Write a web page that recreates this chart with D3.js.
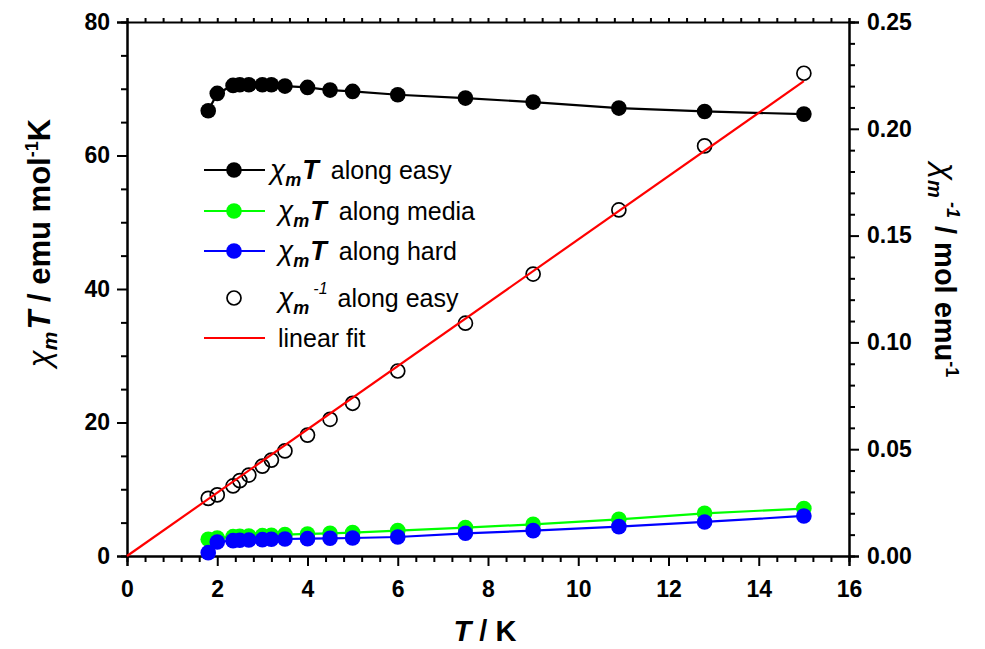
<!DOCTYPE html>
<html>
<head>
<meta charset="utf-8">
<script src="https://cdn.jsdelivr.net/npm/d3@7"></script>
<style>
  body { margin: 0; background: #fff; }
  svg { font-family: Arial, "Liberation Sans", sans-serif; }
</style>
</head>
<body>
<div id="chart"></div>
<script>
// temperatures (K)
const temps = [1.8, 2.0, 2.35, 2.5, 2.7, 3.0, 3.2, 3.5, 4.0, 4.5, 5.0, 6.0, 7.5, 9.0, 10.9, 12.8, 15.0];
// chi_m T along the three axes (emu mol^-1 K)
const chiTEasy  = [66.7, 69.3, 70.5, 70.6, 70.6, 70.6, 70.6, 70.4, 70.2, 69.8, 69.6, 69.1, 68.6, 68.0, 67.1, 66.6, 66.2];
const chiTMedia = [2.5, 2.7, 2.9, 2.95, 3.0, 3.05, 3.1, 3.2, 3.3, 3.4, 3.5, 3.8, 4.25, 4.75, 5.5, 6.4, 7.1];
const chiTHard  = [0.5, 2.1, 2.3, 2.35, 2.4, 2.45, 2.5, 2.55, 2.6, 2.65, 2.7, 2.85, 3.4, 3.8, 4.4, 5.1, 6.0];
// inverse susceptibility along easy axis (mol emu^-1)
const invChiEasy = [0.027, 0.0286, 0.0328, 0.0353, 0.0379, 0.0421, 0.0449, 0.0492, 0.0566, 0.064, 0.0715, 0.0866, 0.109, 0.132, 0.162, 0.192, 0.226];
// linear fit end points [T, chi^-1]
const fitLine = [[0, 0], [15, 0.2223]];

const xMajor = [0, 2, 4, 6, 8, 10, 12, 14, 16];
const yLeftMajor = [0, 20, 40, 60, 80];
const yRightMajor = [0, 0.05, 0.10, 0.15, 0.20, 0.25];

const W = 985, H = 649;
const svg = d3.select("#chart").append("svg")
    .attr("width", W).attr("height", H);

const x = d3.scaleLinear().domain([0, 16]).range([127, 849]);
const yL = d3.scaleLinear().domain([0, 80]).range([556, 22]);
const yR = d3.scaleLinear().domain([0, 0.25]).range([556, 22]);

// minor ticks
const xMinor = d3.range(0, 16.001, 0.4).filter(v => Math.abs(v / 2 - Math.round(v / 2)) > 1e-6);
const yLMinor = d3.range(0, 80.001, 5).filter(v => v % 20 !== 0);
const yRMinor = d3.range(0, 26).map(v => v / 100).filter(v => Math.round(v * 100) % 5 !== 0);

function styleAxis(g) {
    g.select(".domain").attr("stroke", "#000").attr("stroke-width", 2);
    g.selectAll(".tick line").attr("stroke", "#000").attr("stroke-width", 2);
    g.selectAll(".tick text")
        .style("font-size", "23px").style("font-weight", "bold").attr("fill", "#000");
}

// bottom axis
svg.append("g").attr("transform", "translate(0,556)")
    .call(d3.axisBottom(x).tickValues(xMinor).tickSize(6).tickFormat(""))
    .call(styleAxis);
svg.append("g").attr("transform", "translate(0,556)")
    .call(d3.axisBottom(x).tickValues(xMajor).tickSize(10).tickPadding(15).tickFormat(d3.format("d")))
    .call(styleAxis);

// top axis (no labels)
svg.append("g").attr("transform", "translate(0,22)")
    .call(d3.axisTop(x).tickValues(d3.range(0, 16.001, 0.4)).tickSize(4).tickFormat(""))
    .call(styleAxis);

// left axis
svg.append("g").attr("transform", "translate(127,0)")
    .call(d3.axisLeft(yL).tickValues(yLMinor).tickSize(6).tickFormat(""))
    .call(styleAxis);
svg.append("g").attr("transform", "translate(127,0)")
    .call(d3.axisLeft(yL).tickValues(yLeftMajor).tickSize(10).tickPadding(7).tickFormat(d3.format("d")))
    .call(styleAxis);

// right axis
svg.append("g").attr("transform", "translate(849,0)")
    .call(d3.axisRight(yR).tickValues(yRMinor).tickSize(6).tickFormat(""))
    .call(styleAxis);
svg.append("g").attr("transform", "translate(849,0)")
    .call(d3.axisRight(yR).tickValues(yRightMajor).tickSize(10).tickPadding(8).tickFormat(d3.format(".2f")))
    .call(styleAxis);

// axis titles
svg.append("text")
    .attr("transform", "translate(485,641)")
    .attr("text-anchor", "middle")
    .style("font-size", "29px").style("font-weight", "bold")
    .html('<tspan font-style="italic">T</tspan> / K');

const leftTitle = svg.append("text")
    .attr("transform", "translate(50,243) rotate(-90)")
    .attr("text-anchor", "middle")
    .style("font-size", "31px").style("font-weight", "bold");
leftTitle.append("tspan").attr("font-style", "italic").attr("font-weight", "normal").text("χ");
leftTitle.append("tspan").attr("font-style", "italic").attr("font-size", "21px").attr("dy", 7).text("m");
leftTitle.append("tspan").attr("font-style", "italic").attr("dy", -7).attr("dx", 2).text("T");
leftTitle.append("tspan").text(" / emu mol");
leftTitle.append("tspan").attr("font-size", "18px").attr("dy", -12).text("-1");
leftTitle.append("tspan").attr("dy", 12).text("K");

const rightTitle = svg.append("text")
    .attr("transform", "translate(935,270) rotate(90)")
    .attr("text-anchor", "middle")
    .style("font-size", "29px").style("font-weight", "bold");
rightTitle.append("tspan").attr("font-style", "italic").attr("font-weight", "normal").attr("font-size", "32px").text("χ");
rightTitle.append("tspan").attr("font-style", "italic").attr("font-size", "20px").attr("dy", 7).text("m");
rightTitle.append("tspan").attr("font-style", "italic").attr("font-size", "18px").attr("dy", -19).attr("dx", 4).text("-1");
rightTitle.append("tspan").attr("dy", 12).text(" / mol emu");
rightTitle.append("tspan").attr("font-size", "18px").attr("dy", -11).text("-1");

// data series
const rows = temps.map((t, i) => ({ t, easy: chiTEasy[i], media: chiTMedia[i], hard: chiTHard[i], inv: invChiEasy[i] }));

function drawSeries(key, color) {
    const line = d3.line().x(d => x(d.t)).y(d => yL(d[key]));
    svg.append("path").datum(rows)
        .attr("d", line).attr("fill", "none")
        .attr("stroke", color).attr("stroke-width", 2.2);
    svg.append("g").selectAll("circle").data(rows).join("circle")
        .attr("cx", d => x(d.t)).attr("cy", d => yL(d[key]))
        .attr("r", 7.8).attr("fill", color);
}
drawSeries("easy", "#000");
drawSeries("media", "#00ff00");
drawSeries("hard", "#0000ff");

// inverse susceptibility (open circles)
svg.append("g").selectAll("circle").data(rows).join("circle")
    .attr("cx", d => x(d.t)).attr("cy", d => yR(d.inv))
    .attr("r", 7).attr("fill", "none")
    .attr("stroke", "#000").attr("stroke-width", 1.7);

// linear fit
svg.append("path").datum(fitLine)
    .attr("d", d3.line().x(d => x(d[0])).y(d => yR(d[1])))
    .attr("fill", "none").attr("stroke", "#ff0000").attr("stroke-width", 2.2);

// legend
const legendItems = [
    { color: "#000", type: "lineDot", sup: null, label: "along easy", tx: 270 },
    { color: "#00ff00", type: "lineDot", sup: null, label: "along media", tx: 278 },
    { color: "#0000ff", type: "lineDot", sup: null, label: "along hard", tx: 278 },
    { color: "#000", type: "open", sup: "-1", label: "along easy", tx: 278 },
    { color: "#ff0000", type: "line", sup: null, label: "linear fit", tx: 278 }
];
const legendY = [170, 211, 251, 298, 338];

legendItems.forEach((it, i) => {
    const g = svg.append("g").attr("transform", `translate(0,${legendY[i]})`);
    if (it.type !== "open") {
        g.append("line").attr("x1", 204).attr("x2", 265).attr("y1", 0).attr("y2", 0)
            .attr("stroke", it.color).attr("stroke-width", 2.2);
    }
    if (it.type === "lineDot") {
        g.append("circle").attr("cx", 234).attr("cy", 0).attr("r", 7.8).attr("fill", it.color);
    }
    if (it.type === "open") {
        g.append("circle").attr("cx", 234).attr("cy", 0).attr("r", 7)
            .attr("fill", "none").attr("stroke", "#000").attr("stroke-width", 1.7);
    }
    const t = g.append("text").attr("x", it.tx).attr("y", 9).style("font-size", "25px");
    if (it.type === "line") {
        t.text(it.label);
        return;
    }
    t.append("tspan").attr("font-style", "italic").attr("font-size", "28px").text("χ");
    t.append("tspan").attr("font-style", "italic").attr("font-weight", "bold")
        .attr("font-size", "18px").attr("dy", 7).text("m");
    if (it.sup) {
        t.append("tspan").attr("font-style", "italic").attr("font-size", "16px")
            .attr("dy", -20).attr("dx", 4).text(it.sup);
        t.append("tspan").attr("dy", 13).attr("dx", 10).text("along easy");
    } else {
        t.append("tspan").attr("font-style", "italic").attr("font-weight", "bold")
            .attr("font-size", "27px").attr("dy", -7).attr("dx", 1).text("T");
        t.append("tspan").attr("dx", 12).text(it.label);
    }
});
</script>
</body>
</html>
